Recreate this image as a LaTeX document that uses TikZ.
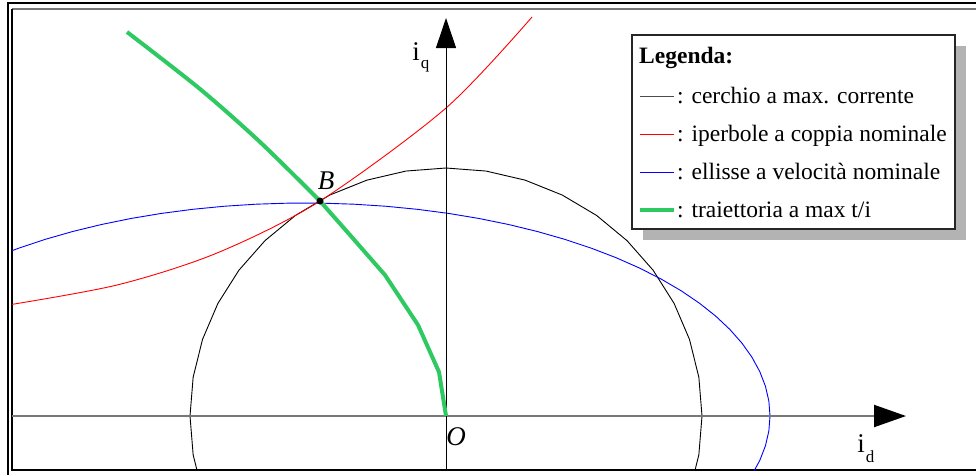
\documentclass[tikz,border=0pt]{standalone}
\usepackage{fontspec}
\setmainfont{Liberation Serif}
\usetikzlibrary{arrows.meta}
\definecolor{curvegreen}{RGB}{46,201,96}
\definecolor{axisgray}{RGB}{120,120,120}
\definecolor{shadowgray}{RGB}{179,179,179}
\begin{document}
\begin{tikzpicture}[x=1pt,y=-1pt,
  framebk/.style={black, line width=1.2pt},
  thincurve/.style={line width=0.9pt, line join=round},
  greencurve/.style={curvegreen, line width=4pt, line join=round},
  lbl/.style={font=\fontsize{27}{27}\selectfont, inner sep=0pt},
  sublbl/.style={font=\fontsize{17}{17}\selectfont, inner sep=0pt},
  legtxt/.style={font=\fontsize{23.5}{23.5}\selectfont, anchor=base west, inner sep=0pt},
  legline/.style={line width=1pt},
]
\useasboundingbox (0,0) rectangle (976,475);
% frames
\draw[framebk] (8,475) -- (8,3) -- (976,3);
\draw[axisgray, line width=2pt] (12,9) -- (976,9);
\draw[framebk] (12,9) -- (12,470) -- (976,470);

% coordinates
\coordinate (O) at (446,416);
\coordinate (xstart) at (12,416);
\coordinate (xtip) at (906,416);
\coordinate (ystart) at (446,470);
\coordinate (ytip) at (446,18);

\begin{scope}
\clip (12,9) rectangle (976,470);
% circle of max current
\draw[thincurve, black] plot[samples at={0,9,...,360}, variable=\t]
  ({446+256*cos(\t)},{416-248*sin(\t)});
% ellipse at nominal speed
\draw[thincurve, blue] plot[samples at={0,4,...,360}, variable=\t]
  ({305+465*cos(\t)},{416-213*sin(\t)});
% hyperbola at nominal torque
\draw[thincurve, red] plot[smooth] coordinates {(2,306) (117,285) (217,253) (320,201) (446,108) (532,17)};
\end{scope}

% axes
\draw[axisgray, line width=2pt, -{Triangle[length=32pt,width=22pt,color=black]}] (xstart) -- (xtip);
\draw[black, line width=1pt, -{Triangle[length=30pt,width=20pt]}] (ystart) -- (ytip);

% trajectory max t/i
\draw[greencurve] plot[smooth] coordinates {(127,32) (200,89) (260,142) (320,201)}
  -- (350,235) -- (385,275) -- (418,325) -- (439,372) -- (O);

% point B
\node[circle, fill=black, inner sep=0pt, minimum size=7pt] (B) at (320,201) {};
\node[lbl, font=\fontsize{27}{27}\selectfont\itshape] (Blbl) at (326,181) {B};
\node[lbl, font=\fontsize{27}{27}\selectfont\itshape] (Olbl) at (456,437) {O};

% axis labels
\node[lbl] (iq) at (416,52) {i};
\node[sublbl] (iqs) at (425,66) {q};
\node[lbl] (id) at (861,444) {i};
\node[sublbl] (ids) at (870,457) {d};

% legend
\fill[shadowgray] (643,46) rectangle (966,240);
\draw[black!85, line width=1.2pt, fill=white] (632,35) rectangle (955,229);
\node[legtxt, font=\fontsize{23.5}{23.5}\selectfont\bfseries] (legtitle) at (639,63) {Legenda:};
\coordinate (l1a) at (640,96);  \coordinate (l1b) at (674,96);
\coordinate (l2a) at (640,134); \coordinate (l2b) at (674,134);
\coordinate (l3a) at (640,172); \coordinate (l3b) at (674,172);
\coordinate (l4a) at (640,210); \coordinate (l4b) at (674,210);
\draw[legline, black!70] (l1a) -- (l1b);
\draw[legline, red] (l2a) -- (l2b);
\draw[legline, blue] (l3a) -- (l3b);
\draw[curvegreen, line width=4pt] (l4a) -- (l4b);
\node[legtxt] (leg1) at (677,103) {: cerchio a max. corrente};
\node[legtxt] (leg2) at (677,141) {: iperbole a coppia nominale};
\node[legtxt] (leg3) at (677,179) {: ellisse a velocità nominale};
\node[legtxt] (leg4) at (677,217) {: traiettoria a max t/i};
\end{tikzpicture}
\end{document}
